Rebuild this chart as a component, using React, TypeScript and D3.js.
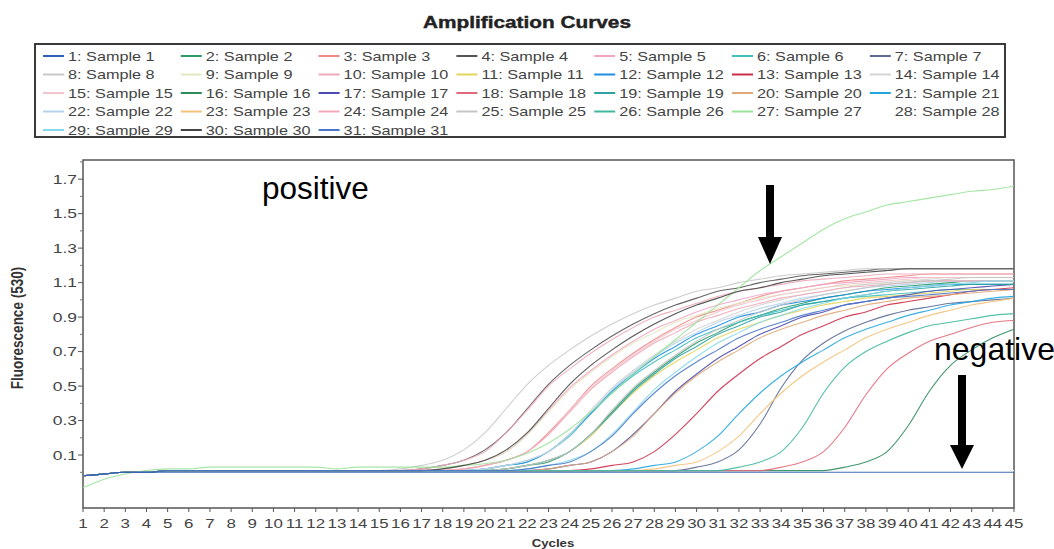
import React from 'react';
import * as d3 from 'd3';

const cycles = [1,2,3,4,5,6,7,8,9,10,11,12,13,14,15,16,17,18,19,20,21,22,23,24,25,26,27,28,29,30,31,32,33,34,35,36,37,38,39,40,41,42,43,44,45];
const yTickLabels = [0.1,0.3,0.5,0.7,0.9,1.1,1.3,1.5,1.7];

const sampleLabels = [
  '1: Sample 1','2: Sample 2','3: Sample 3','4: Sample 4','5: Sample 5','6: Sample 6','7: Sample 7',
  '8: Sample 8','9: Sample 9','10: Sample 10','11: Sample 11','12: Sample 12','13: Sample 13','14: Sample 14',
  '15: Sample 15','16: Sample 16','17: Sample 17','18: Sample 18','19: Sample 19','20: Sample 20','21: Sample 21',
  '22: Sample 22','23: Sample 23','24: Sample 24','25: Sample 25','26: Sample 26','27: Sample 27','28: Sample 28',
  '29: Sample 29','30: Sample 30','31: Sample 31'
];

const sampleColors = [
  '#2f5fb3','#2e9a6a','#f08a8a','#555555','#f2a6c4','#3fbfbf','#5c6a94',
  '#c8c8c8','#e2e8c0','#eeaab8','#e4d45a','#1e8fe0','#cc2f4a','#d4d4d4',
  '#f2c4cc','#2b8c5c','#4b4bb0','#e06a7a','#2fa3a3','#e0a878','#22a6e0',
  '#b4d2ea','#f3c27a','#f0a8b8','#c4c4c4','#3fb8a0','#9be39b','#ffffff',
  '#86d9ea','#444444','#4a78c8'
];

// Fluorescence (530) per cycle 1..45
const s1 = [-0.02,-0.01,0,0,0,0,0,0,0,0, 0,0,0,0,0,0,0,0,0,0, 0,0,0,0,0,0,0,0,0,0, 0,0,0,0,0,0,0,0,0,0, 0,0,0,0,0];
const s2 = [-0.02,-0.01,0,0,0.01,0.01,0.01,0.01,0.01,0.01, 0.01,0.01,0.01,0.01,0.01,0.01,0.01,0.01,0.01,0.01, 0.02,0.04,0.07,0.12,0.22,0.35,0.48,0.58,0.67,0.75, 0.81,0.87,0.91,0.95,0.98,1.01,1.03,1.05,1.07,1.08, 1.09,1.10,1.11,1.11,1.11];
const s3 = [-0.02,-0.01,0,0,0.01,0.01,0.01,0.01,0.01,0.01, 0.01,0.01,0.01,0.01,0.01,0.01,0.01,0.01,0.02,0.04, 0.07,0.12,0.23,0.36,0.50,0.60,0.69,0.77,0.84,0.90, 0.94,0.98,1.02,1.05,1.07,1.09,1.11,1.12,1.13,1.14, 1.15,1.15,1.15,1.15,1.15];
const s4 = [-0.02,-0.01,0,0,0.01,0.01,0.01,0.01,0.01,0.01, 0.01,0.01,0.01,0.01,0.01,0.01,0.02,0.04,0.07,0.13, 0.23,0.37,0.51,0.62,0.71,0.79,0.86,0.92,0.97,1.01, 1.05,1.07,1.10,1.12,1.14,1.15,1.16,1.17,1.18,1.18, 1.18,1.18,1.18,1.18,1.18];
const s5 = [-0.02,-0.01,0,0,0.01,0.01,0.01,0.01,0.01,0.01, 0.01,0.01,0.01,0.01,0.01,0.01,0.01,0.02,0.04,0.07, 0.12,0.22,0.36,0.49,0.59,0.68,0.76,0.83,0.88,0.93, 0.97,1.00,1.03,1.05,1.07,1.09,1.10,1.11,1.12,1.13, 1.13,1.13,1.13,1.13,1.13];
const s6 = [-0.02,-0.01,0,0,0.01,0.01,0.01,0.01,0.01,0.01, 0.01,0.01,0.01,0.01,0.01,0.01,0.01,0.01,0.01,0.02, 0.04,0.06,0.12,0.21,0.34,0.46,0.56,0.64,0.71,0.78, 0.83,0.87,0.91,0.94,0.97,0.99,1.01,1.02,1.03,1.04, 1.05,1.06,1.06,1.06,1.06];
const s7 = [-0.02,-0.01,0,0,0.01,0.01,0.01,0.01,0.01,0.01, 0.01,0.01,0.01,0.01,0.01,0.01,0.01,0.01,0.01,0.01, 0.01,0.01,0.01,0.01,0.01,0.01,0.01,0.01,0.01,0.03, 0.06,0.13,0.28,0.49,0.65,0.75,0.82,0.87,0.91,0.94, 0.96,0.98,0.99,1.00,1.01];
const s8 = [-0.02,-0.01,0,0,0.01,0.01,0.01,0.01,0.01,0.01, 0.01,0.01,0.01,0.01,0.01,0.02,0.04,0.07,0.13,0.23, 0.37,0.51,0.62,0.71,0.79,0.86,0.92,0.97,1.01,1.05, 1.07,1.10,1.12,1.14,1.15,1.16,1.17,1.18,1.18,1.18, 1.18,1.18,1.18,1.18,1.18];
const s9 = [-0.02,-0.01,0,0,0.01,0.01,0.01,0.01,0.01,0.01, 0.01,0.01,0.01,0.01,0.01,0.01,0.01,0.02,0.04,0.07, 0.12,0.22,0.35,0.48,0.58,0.67,0.75,0.81,0.87,0.91, 0.95,0.98,1.01,1.03,1.05,1.07,1.08,1.09,1.10,1.11, 1.11,1.11,1.11,1.11,1.11];
const s10 = [-0.02,-0.01,0,0,0.01,0.01,0.01,0.01,0.01,0.01, 0.01,0.01,0.01,0.01,0.01,0.01,0.02,0.04,0.07,0.12, 0.23,0.36,0.50,0.60,0.69,0.77,0.84,0.90,0.94,0.98, 1.02,1.05,1.07,1.09,1.11,1.12,1.13,1.14,1.15,1.15, 1.15,1.15,1.15,1.15,1.15];
const s11 = [-0.02,-0.01,0,0,0.01,0.01,0.01,0.01,0.01,0.01, 0.01,0.01,0.01,0.01,0.01,0.01,0.01,0.01,0.01,0.01, 0.02,0.04,0.06,0.12,0.21,0.34,0.46,0.56,0.64,0.71, 0.78,0.83,0.87,0.91,0.94,0.97,0.99,1.01,1.02,1.03, 1.04,1.05,1.06,1.06,1.06];
const s12 = [-0.02,-0.01,0,0,0.01,0.01,0.01,0.01,0.01,0.01, 0.01,0.01,0.01,0.01,0.01,0.01,0.01,0.01,0.01,0.02, 0.04,0.06,0.12,0.22,0.34,0.47,0.57,0.66,0.73,0.80, 0.85,0.90,0.93,0.97,0.99,1.01,1.03,1.05,1.06,1.07, 1.08,1.09,1.09,1.09,1.09];
const s13 = [-0.02,-0.01,0,0,0.01,0.01,0.01,0.01,0.01,0.01, 0.01,0.01,0.01,0.01,0.01,0.01,0.01,0.01,0.01,0.01, 0.01,0.01,0.01,0.01,0.02,0.04,0.06,0.12,0.22,0.34, 0.47,0.57,0.66,0.73,0.80,0.85,0.90,0.93,0.97,0.99, 1.01,1.03,1.05,1.06,1.07];
const s14 = [-0.02,-0.01,0,0,0.01,0.01,0.01,0.01,0.01,0.01, 0.01,0.01,0.01,0.01,0.01,0.01,0.01,0.01,0.01,0.02, 0.04,0.07,0.12,0.22,0.36,0.49,0.59,0.68,0.76,0.83, 0.88,0.93,0.97,1.00,1.03,1.05,1.07,1.09,1.10,1.11, 1.12,1.13,1.13,1.13,1.13];
const s15 = [-0.02,-0.01,0,0,0.01,0.01,0.01,0.01,0.01,0.01, 0.01,0.01,0.01,0.01,0.01,0.01,0.01,0.01,0.02,0.04, 0.07,0.12,0.22,0.36,0.49,0.59,0.68,0.76,0.83,0.88, 0.93,0.97,1.00,1.03,1.05,1.07,1.09,1.10,1.11,1.12, 1.13,1.13,1.13,1.13,1.13];
const s16 = [-0.02,-0.01,0,0,0.01,0.01,0.01,0.01,0.01,0.01, 0.01,0.01,0.01,0.01,0.01,0.01,0.01,0.01,0.01,0.01, 0.01,0.01,0.01,0.01,0.01,0.01,0.01,0.01,0.01,0.01, 0.01,0.01,0.01,0.01,0.01,0.01,0.03,0.06,0.12,0.27, 0.47,0.62,0.71,0.78,0.83];
const s17 = [-0.02,-0.01,0,0,0.01,0.01,0.01,0.01,0.01,0.01, 0.01,0.01,0.01,0.01,0.01,0.01,0.01,0.01,0.01,0.01, 0.01,0.01,0.02,0.04,0.06,0.12,0.22,0.34,0.47,0.57, 0.66,0.73,0.80,0.85,0.90,0.93,0.97,0.99,1.01,1.03, 1.05,1.06,1.07,1.08,1.09];
const s18 = [-0.02,-0.01,0,0,0.01,0.01,0.01,0.01,0.01,0.01, 0.01,0.01,0.01,0.01,0.01,0.01,0.01,0.01,0.01,0.01, 0.01,0.01,0.01,0.01,0.01,0.01,0.01,0.01,0.01,0.01, 0.01,0.01,0.01,0.03,0.06,0.12,0.26,0.45,0.60,0.69, 0.76,0.80,0.84,0.87,0.88];
const s19 = [-0.02,-0.01,0,0,0.01,0.01,0.01,0.01,0.01,0.01, 0.01,0.01,0.01,0.01,0.01,0.01,0.01,0.01,0.01,0.01, 0.02,0.04,0.06,0.12,0.22,0.34,0.47,0.57,0.66,0.73, 0.80,0.85,0.90,0.93,0.97,0.99,1.01,1.03,1.05,1.06, 1.07,1.08,1.09,1.09,1.09];
const s20 = [-0.02,-0.01,0,0,0.01,0.01,0.01,0.01,0.01,0.01, 0.01,0.01,0.01,0.01,0.01,0.01,0.01,0.01,0.01,0.01, 0.01,0.01,0.02,0.04,0.06,0.12,0.21,0.34,0.46,0.56, 0.64,0.71,0.78,0.83,0.87,0.91,0.94,0.97,0.99,1.01, 1.02,1.03,1.04,1.05,1.06];
const s21 = [-0.02,-0.01,0,0,0.01,0.01,0.01,0.01,0.01,0.01, 0.01,0.01,0.01,0.01,0.01,0.01,0.01,0.01,0.01,0.01, 0.01,0.01,0.01,0.01,0.01,0.01,0.02,0.04,0.06,0.12, 0.21,0.34,0.46,0.56,0.64,0.71,0.78,0.83,0.87,0.91, 0.94,0.97,0.99,1.01,1.02];
const s22 = [-0.02,-0.01,0,0,0.01,0.01,0.01,0.01,0.01,0.01, 0.01,0.01,0.01,0.01,0.01,0.01,0.01,0.01,0.01,0.02, 0.04,0.07,0.12,0.22,0.35,0.48,0.58,0.67,0.75,0.81, 0.87,0.91,0.95,0.98,1.01,1.03,1.05,1.07,1.08,1.09, 1.10,1.11,1.11,1.11,1.11];
const s23 = [-0.02,-0.01,0,0,0.01,0.01,0.01,0.01,0.01,0.01, 0.01,0.01,0.01,0.01,0.01,0.01,0.01,0.01,0.01,0.01, 0.01,0.01,0.01,0.01,0.01,0.01,0.01,0.02,0.04,0.06, 0.12,0.21,0.34,0.46,0.56,0.64,0.71,0.78,0.83,0.87, 0.91,0.94,0.97,0.99,1.01];
const s24 = [-0.02,-0.01,0,0,0.01,0.01,0.01,0.01,0.01,0.01, 0.01,0.01,0.01,0.01,0.01,0.01,0.01,0.01,0.02,0.04, 0.07,0.12,0.22,0.35,0.48,0.58,0.67,0.75,0.81,0.87, 0.91,0.95,0.98,1.01,1.03,1.05,1.07,1.08,1.09,1.10, 1.11,1.11,1.11,1.11,1.11];
const s25 = [-0.02,-0.01,0,0,0.01,0.01,0.01,0.01,0.01,0.01, 0.01,0.01,0.01,0.01,0.01,0.01,0.01,0.01,0.01,0.01, 0.02,0.04,0.07,0.12,0.22,0.36,0.49,0.59,0.68,0.76, 0.83,0.88,0.93,0.97,1.00,1.03,1.05,1.07,1.09,1.10, 1.11,1.12,1.13,1.13,1.13];
const s26 = [-0.02,-0.01,0,0,0.01,0.01,0.01,0.01,0.01,0.01, 0.01,0.01,0.01,0.01,0.01,0.01,0.01,0.01,0.01,0.01, 0.01,0.01,0.01,0.01,0.01,0.01,0.01,0.01,0.01,0.01, 0.01,0.03,0.06,0.12,0.26,0.46,0.61,0.70,0.76,0.81, 0.85,0.87,0.89,0.91,0.92];
const s27 = [-0.09,-0.04,-0.01,0.01,0.02,0.02,0.03,0.03,0.03,0.03, 0.03,0.03,0.02,0.03,0.03,0.03,0.03,0.03,0.04,0.05, 0.07,0.11,0.17,0.25,0.35,0.46,0.57,0.67,0.77,0.87, 0.97,1.07,1.17,1.25,1.33,1.41,1.47,1.51,1.55,1.57, 1.59,1.61,1.63,1.64,1.66];
const s28 = [-0.02,-0.01,0,0,0.01,0.01,0.01,0.01,0.01,0.01, 0.01,0.01,0.01,0.01,0.01,0.01,0.01,0.01,0.01,0.01, 0.01,0.01,0.01,0.01,0.01,0.01,0.01,0.01,0.01,0.01, 0.01,0.01,0.01,0.01,0.01,0.01,0.01,0.01,0.01,0.01, 0.01,0.01,0.01,0.01,0.01];
const s29 = [-0.02,-0.01,0,0,0.01,0.01,0.01,0.01,0.01,0.01, 0.01,0.01,0.01,0.01,0.01,0.01,0.01,0.01,0.01,0.01, 0.01,0.02,0.04,0.07,0.12,0.22,0.35,0.48,0.58,0.67, 0.75,0.81,0.87,0.91,0.95,0.98,1.01,1.03,1.05,1.07, 1.08,1.09,1.10,1.11,1.11];
const s30 = [-0.02,-0.01,0,0,0.01,0.01,0.01,0.01,0.01,0.01, 0.01,0.01,0.01,0.01,0.01,0.01,0.01,0.02,0.04,0.07, 0.13,0.23,0.37,0.51,0.62,0.71,0.79,0.86,0.92,0.97, 1.01,1.05,1.07,1.10,1.12,1.14,1.15,1.16,1.17,1.18, 1.18,1.18,1.18,1.18,1.18];
const s31 = [-0.02,-0.01,0,0,0.01,0.01,0.01,0.01,0.01,0.01, 0.01,0.01,0.01,0.01,0.01,0.01,0.01,0.01,0.01,0.01, 0.01,0.02,0.04,0.06,0.12,0.21,0.34,0.46,0.56,0.64, 0.71,0.78,0.83,0.87,0.91,0.94,0.97,0.99,1.01,1.02, 1.03,1.04,1.05,1.06,1.06];

const series = [s1,s2,s3,s4,s5,s6,s7,s8,s9,s10,s11,s12,s13,s14,s15,s16,s17,s18,s19,s20,s21,s22,s23,s24,s25,s26,s27,s28,s29,s30,s31];

const FONT = "'Liberation Sans', Arial, Helvetica, sans-serif";

export default function App() {
  const W = 1054, H = 549;
  const left = 83, right = 1014, top = 160, bottom = 508;
  const x = d3.scaleLinear().domain([1, 45]).range([left, right]);
  const y = d3.scaleLinear().domain([-0.207, 1.811]).range([bottom, top]);
  const line = d3.line<number>()
    .x((_, i) => x(cycles[i]))
    .y(d => y(d))
    .curve(d3.curveMonotoneX);

  // draw order: white sample 28 first, negative sample 1 last
  const order = [27, ...series.map((_, i) => i).filter(i => i !== 27 && i !== 0), 0];

  const minorTicks = d3.range(0, 1.81, 0.1).filter(v => !yTickLabels.some(t => Math.abs(t - v) < 1e-6));

  const colX0 = 43, colStep = 137.8, rowY0 = 56, rowStep = 18.5;

  return (
    <svg width={W} height={H} style={{ position: 'absolute', left: 0, top: 0, background: '#fff', display: 'block' }}>
      <rect x={0} y={0} width={W} height={H} fill="#fff" />
      {/* Title */}
      <text transform="translate(527,28) scale(1.3,1)" textAnchor="middle" fontFamily={FONT} fontWeight="bold" fontSize={16} fill="#222" stroke="#222" strokeWidth={0.4}>
        Amplification Curves
      </text>

      {/* Legend */}
      <rect x={35} y={44} width={970} height={93} fill="none" stroke="#3a3a3a" strokeWidth={2} />
      {sampleLabels.map((lab, i) => {
        const col = i % 7, row = Math.floor(i / 7);
        const lx = colX0 + col * colStep;
        const ly = rowY0 + row * rowStep;
        return (
          <g key={lab}>
            <line x1={lx} x2={lx + 21} y1={ly} y2={ly} stroke={sampleColors[i]} strokeWidth={2} />
            <text transform={`translate(${lx + 25},${ly + 4.5}) scale(1.3,1)`} fontFamily={FONT} fontSize={12.5} fill="#444">
              {lab}
            </text>
          </g>
        );
      })}

      {/* Plot frame */}
      <rect x={left} y={top} width={right - left} height={bottom - top} fill="none" stroke="#555" strokeWidth={1.5} />

      {/* Y ticks */}
      {yTickLabels.map(t => (
        <g key={t}>
          <line x1={left - 5} x2={left} y1={y(t)} y2={y(t)} stroke="#555" strokeWidth={1} />
          <text transform={`translate(${left - 6},${y(t) + 4.5}) scale(1.4,1)`} textAnchor="end" fontFamily={FONT} fontSize={12.5} fill="#444">
            {t.toFixed(1)}
          </text>
        </g>
      ))}
      {minorTicks.map(t => (
        <line key={'m' + t} x1={left - 3} x2={left} y1={y(t)} y2={y(t)} stroke="#777" strokeWidth={1} />
      ))}

      {/* X ticks */}
      {cycles.map(c => (
        <g key={'x' + c}>
          <line x1={x(c)} x2={x(c)} y1={bottom} y2={bottom + 4} stroke="#555" strokeWidth={1} />
          <text transform={`translate(${x(c)},${bottom + 20}) scale(1.3,1)`} textAnchor="middle" fontFamily={FONT} fontSize={13} fill="#444">
            {c}
          </text>
        </g>
      ))}

      {/* Axis titles */}
      <text transform="translate(553,547) scale(1.2,1)" textAnchor="middle" fontFamily={FONT} fontWeight="bold" fontSize={11} fill="#333">
        Cycles
      </text>
      <text transform="translate(23,328) rotate(-90) scale(1,1.2)" textAnchor="middle" fontFamily={FONT} fontWeight="bold" fontSize={13.5} fill="#333">
        Fluorescence (530)
      </text>

      {/* Curves */}
      <g>
        {order.map(i => (
          <path key={'s' + i} d={line(series[i]) || ''} fill="none" stroke={sampleColors[i]} strokeWidth={1.1} strokeOpacity={0.9} />
        ))}
      </g>

      {/* Annotations */}
      <text x={262} y={199} fontFamily={FONT} fontSize={31.5} fill="#000">positive</text>
      <rect x={766} y={185} width={8} height={53} fill="#000" />
      <polygon points="758,237 782,237 770,264" fill="#000" />

      <text x={934} y={360} fontFamily={FONT} fontSize={32} fill="#000">negative</text>
      <rect x={958} y={375} width={8} height={72} fill="#000" />
      <polygon points="950,445 974,445 962,469" fill="#000" />
    </svg>
  );
}
